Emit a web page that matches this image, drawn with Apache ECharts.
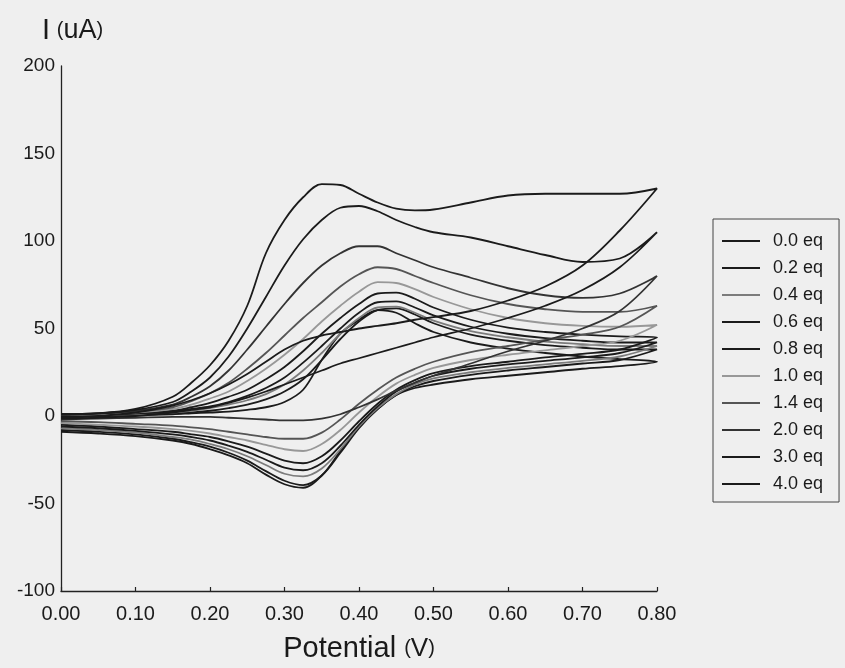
<!DOCTYPE html>
<html>
<head>
<meta charset="utf-8">
<script src="https://cdn.jsdelivr.net/npm/echarts@6/dist/echarts.min.js"></script>
<style>
  html, body { margin: 0; padding: 0; background: #efefef; }
  #chart { width: 845px; height: 668px; }
</style>
</head>
<body>
<div id="chart"></div>
<script>
// Potential grid (V) shared by every scan branch
const potential = [0, 0.05, 0.1, 0.15, 0.175, 0.2, 0.225, 0.25, 0.275, 0.3, 0.325, 0.35, 0.375, 0.4, 0.425, 0.45, 0.475, 0.5, 0.55, 0.6, 0.65, 0.7, 0.75, 0.8];

// Legend labels (equivalents added)
const eqLabels = ['0.0 eq', '0.2 eq', '0.4 eq', '0.6 eq', '0.8 eq', '1.0 eq', '1.4 eq', '2.0 eq', '3.0 eq', '4.0 eq'];

// Current (uA): forward (anodic) scan 0 -> 0.8 V, listed on the potential grid
const fwd00 = [0, 0, 0.5, 1, 1.5, 2, 2.5, 3.5, 5, 8, 15, 32, 47, 55, 60.5, 59, 53, 48, 42, 38.5, 36, 34, 32.5, 31];
const fwd02 = [0.5, 0.5, 1, 1.5, 2, 3, 4.5, 6.5, 9.5, 14, 21, 32, 44, 54, 60.5, 61.5, 58, 53, 46.5, 43, 40.5, 39, 38, 38];
const fwd04 = [0.5, 0.5, 1, 2, 3, 4.5, 6.5, 9, 12.5, 18, 26, 36, 47, 56, 62, 62.5, 59, 54.5, 48.5, 45, 42.5, 41, 40, 40];
const fwd06 = [0.5, 1, 1.5, 2.5, 4, 5.5, 8, 11.5, 16, 22, 30.5, 40, 50, 59, 65, 65.5, 62, 57.5, 51, 47, 44.5, 43, 42, 42];
const fwd08 = [1, 1, 1.5, 3, 5, 7.5, 11, 15, 21, 28, 37, 47, 56, 64, 70, 70.5, 67, 62, 55, 50.5, 48, 46.5, 45.5, 45];
const fwd10 = [1, 1, 2, 4, 6.5, 10, 14, 20, 27, 35, 44, 54, 63, 71, 76.5, 76, 72.5, 68, 61, 56, 53, 51.5, 51, 52];
const fwd14 = [1, 1.5, 2.5, 5, 8.5, 13, 19, 27, 36, 46, 56, 65, 74, 81, 85, 84, 80, 76, 69, 64, 61, 59.5, 59.5, 63];
const fwd20 = [1, 1.5, 3, 6.5, 11, 17, 26, 38, 51, 64, 76, 86, 93, 97, 97, 93, 89, 85, 79, 73, 69, 67.5, 70, 80];
const fwd30 = [1, 1.5, 3.5, 8, 14, 22, 34, 50, 68, 86, 101, 112, 119, 120, 117, 112, 108, 105, 102, 97, 92, 88, 90, 105];
const fwd40 = [1, 1.5, 4, 11, 19, 29, 43, 63, 93, 112, 125, 132.5, 132, 127, 122, 118.5, 117.5, 118, 122, 126, 127, 127, 127, 130];

// Current (uA): reverse (cathodic) scan 0.8 -> 0 V, also listed on the potential grid
const rev00 = [-9, -10, -11.5, -14, -16, -19, -22.5, -27, -33.5, -39, -41, -34, -20, -6, 4, 12, 16, 18, 21, 23, 25, 27, 28.5, 31];
const rev02 = [-8, -9, -10.5, -13, -15, -17.5, -21, -25.5, -31.5, -37, -39.5, -34, -21, -7, 4, 12, 17, 20, 23.5, 26, 28, 30, 32, 38];
const rev04 = [-7, -8, -9.5, -12, -13.5, -16, -19, -23, -28, -33, -34.5, -30, -19, -6, 4.5, 12.5, 18, 21.5, 25, 27.5, 29.5, 31.5, 34, 40];
const rev06 = [-6, -7, -8.5, -10.5, -12, -14, -17, -20.5, -25, -29.5, -31, -27, -17, -5, 5.5, 14, 19, 23, 27, 29.5, 31.5, 33.5, 36, 42];
const rev08 = [-5, -6, -7.5, -9, -10.5, -12, -14.5, -17.5, -21.5, -25.5, -27, -23, -14, -3, 7, 15, 20.5, 24.5, 28.5, 31, 33.5, 35.5, 38, 45];
const rev10 = [-4, -5, -6, -7.5, -8.5, -10, -12, -14, -16.5, -19, -20, -16, -8, 2, 11, 18.5, 23.5, 27.5, 32, 35, 37.5, 40, 43, 52];
const rev14 = [-3, -3.5, -4.5, -5.5, -6.5, -7.5, -9, -10.5, -12, -13, -13, -9.5, -2, 7, 15, 22, 27, 31, 36.5, 40, 43.5, 46.5, 51, 63];
const rev20 = [-2, -1.5, -1, -0.5, -0.5, -0.5, -1, -1.5, -2, -2.5, -2.5, -1.5, 1, 5, 9.5, 14.5, 19, 23, 30, 37, 43, 50, 60, 80];
const rev30 = [-1.5, -1, 0, 2, 3.5, 5, 7.5, 10.5, 14, 18, 22, 26, 30, 33, 36, 39, 42, 45, 50, 56, 63, 72, 85, 105];
const rev40 = [-1, 0, 2, 6, 9, 13, 18, 24, 31, 38, 43, 46, 48, 50, 51.5, 53, 55, 56.5, 60, 66, 74, 86, 106, 130];

// Axis ticks
const xTicks = [0, 0.1, 0.2, 0.3, 0.4, 0.5, 0.6, 0.7, 0.8];
const yTicks = [-100, -50, 0, 50, 100, 150, 200];

const forwardScans = [fwd00, fwd02, fwd04, fwd06, fwd08, fwd10, fwd14, fwd20, fwd30, fwd40];
const reverseScans = [rev00, rev02, rev04, rev06, rev08, rev10, rev14, rev20, rev30, rev40];
const lineColors = ['#1b1b1b', '#1b1b1b', '#7c7c7c', '#1b1b1b', '#1b1b1b', '#989898', '#555555', '#333333', '#1b1b1b', '#1b1b1b'];

// Build one closed voltammogram: forward sweep up, reverse sweep back down
function loop(fwd, rev) {
  const pts = potential.map((v, i) => [v, fwd[i]]);
  for (let i = potential.length - 1; i >= 0; i--) pts.push([potential[i], rev[i]]);
  return pts;
}

const font = 'Liberation Sans, Arial, Helvetica, sans-serif';

const series = eqLabels.map((name, k) => ({
  name: name,
  type: 'line',
  data: loop(forwardScans[k], reverseScans[k]),
  smooth: 0.35,
  symbol: 'none',
  lineStyle: { color: lineColors[k], width: 1.8 },
  itemStyle: { color: lineColors[k] },
  emphasis: { disabled: true },
  animation: false
}));

const chart = echarts.init(document.getElementById('chart'));
chart.setOption({
  backgroundColor: '#efefef',
  animation: false,
  grid: { left: 61, right: 188, top: 66, bottom: 75 },
  xAxis: {
    type: 'value',
    min: xTicks[0],
    max: xTicks[xTicks.length - 1],
    interval: 0.1,
    name: 'Potential {p|(}{v|V}{p|)}',
    nameLocation: 'middle',
    nameGap: 43,
    nameTextStyle: {
      fontFamily: font, fontSize: 29, color: '#1a1a1a',
      rich: {
        p: { fontFamily: font, fontSize: 20, color: '#1a1a1a' },
        v: { fontFamily: font, fontSize: 26, color: '#1a1a1a' }
      }
    },
    axisLine: { onZero: false, lineStyle: { color: '#222', width: 1.3 } },
    axisTick: { show: true, inside: true, length: 4, lineStyle: { color: '#222', width: 1.2 } },
    axisLabel: {
      fontFamily: font, fontSize: 20, color: '#1a1a1a', margin: 13,
      formatter: v => v.toFixed(2)
    },
    splitLine: { show: false }
  },
  yAxis: {
    type: 'value',
    min: yTicks[0],
    max: yTicks[yTicks.length - 1],
    interval: 50,
    name: '{a|I}  {p|(}{u|uA}{p|)}',
    nameLocation: 'end',
    nameGap: 21,
    nameTextStyle: {
      align: 'left',
      padding: [0, 0, 0, -19],
      rich: {
        a: { fontFamily: font, fontSize: 29, color: '#1a1a1a' },
        p: { fontFamily: font, fontSize: 20, color: '#1a1a1a' },
        u: { fontFamily: font, fontSize: 27, color: '#1a1a1a' }
      }
    },
    axisLine: { show: true, onZero: false, lineStyle: { color: '#222', width: 1.3 } },
    axisTick: { show: false },
    axisLabel: { fontFamily: font, fontSize: 19, color: '#1a1a1a', margin: 6, padding: [4, 0, 0, 0] },
    splitLine: { show: false }
  },
  legend: {
    data: eqLabels,
    orient: 'vertical',
    left: 713,
    top: 219,
    icon: 'rect',
    itemWidth: 38,
    itemHeight: 2,
    itemGap: 9,
    padding: [13, 16, 9, 9],
    borderColor: '#444',
    borderWidth: 1,
    selectedMode: false,
    textStyle: { fontFamily: font, fontSize: 18, color: '#1a1a1a', lineHeight: 18, padding: [0, 0, 0, 8] }
  },
  series: series
});
</script>
</body>
</html>
